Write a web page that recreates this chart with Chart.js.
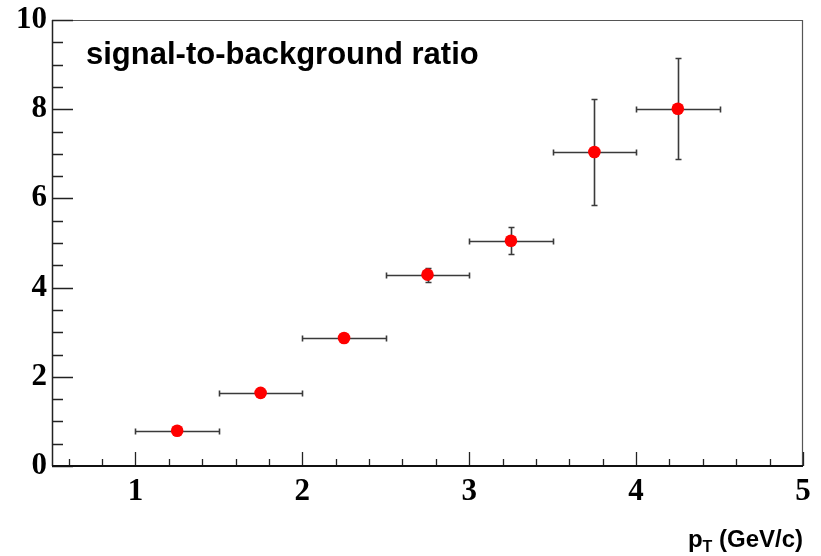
<!DOCTYPE html>
<html>
<head>
<meta charset="utf-8">
<script src="https://cdn.jsdelivr.net/npm/chart.js@4/dist/chart.umd.min.js"></script>
<style>
  html, body { margin: 0; padding: 0; background: #fff; }
  #wrap { width: 821px; height: 556px; }
</style>
</head>
<body>
<div id="wrap"><canvas id="c" width="821" height="556"></canvas></div>
<script>
// pT bin centres (GeV/c) and half-widths
const ptCenters = [1.25, 1.75, 2.25, 2.75, 3.25, 3.75, 4.25];
const ptHalfWidth = [0.25, 0.25, 0.25, 0.25, 0.25, 0.25, 0.25];
// signal-to-background ratio and its uncertainty
const sbRatio = [0.79, 1.64, 2.87, 4.29, 5.05, 7.04, 8.01];
const sbError = [0.04, 0.06, 0.08, 0.16, 0.30, 1.18, 1.13];
// axis tick values
const xTicks = [1, 2, 3, 4, 5];
const yTicks = [0, 2, 4, 6, 8, 10];

const points = ptCenters.map((x, i) => ({ x: x, y: sbRatio[i] }));

const tickFont = { family: '"Liberation Serif", "Times New Roman", serif', weight: 'bold', size: 31 };

// error bars and ROOT-style axis frame/ticks
const frameAndErrors = {
  id: 'frameAndErrors',
  beforeDatasetsDraw(chart) {
    const { ctx, chartArea: a, scales: { x, y } } = chart;
    ctx.save();
    // frame: top & right
    ctx.strokeStyle = '#555';
    ctx.lineWidth = 1.2;
    ctx.beginPath();
    ctx.moveTo(a.left, a.top + 0.5); ctx.lineTo(a.right, a.top + 0.5);
    ctx.moveTo(a.right - 0.5, a.top); ctx.lineTo(a.right - 0.5, a.bottom);
    ctx.stroke();
    // left axis
    ctx.strokeStyle = '#222';
    ctx.lineWidth = 1.5;
    ctx.beginPath();
    ctx.moveTo(a.left + 0.5, a.top); ctx.lineTo(a.left + 0.5, a.bottom);
    ctx.stroke();
    // y ticks
    ctx.lineWidth = 1.3;
    ctx.beginPath();
    for (let v = 0; v <= 10.001; v += 0.5) {
      const py = Math.round(y.getPixelForValue(v)) + 0.5;
      const major = Math.abs(v - Math.round(v / 2) * 2) < 1e-6;
      const len = major ? 21 : 11;
      ctx.moveTo(a.left, py); ctx.lineTo(a.left + len, py);
    }
    ctx.stroke();
    // x ticks
    ctx.beginPath();
    for (let k = 6; k <= 50; k += 2) {
      const v = k / 10;
      const px = Math.round(x.getPixelForValue(v)) + 0.5;
      const major = k % 10 === 0;
      const len = major ? 14 : 7;
      ctx.moveTo(px, a.bottom); ctx.lineTo(px, a.bottom - len);
    }
    ctx.stroke();
    // bottom axis
    ctx.strokeStyle = '#111';
    ctx.lineWidth = 2.2;
    ctx.beginPath();
    ctx.moveTo(a.left, a.bottom); ctx.lineTo(a.right, a.bottom);
    ctx.stroke();

    // error bars
    ctx.strokeStyle = '#3a3a3a';
    ctx.lineWidth = 1.6;
    ctx.beginPath();
    ptCenters.forEach((cx, i) => {
      const px = x.getPixelForValue(cx);
      const py = Math.round(y.getPixelForValue(sbRatio[i])) + 0.5;
      const x0 = Math.round(x.getPixelForValue(cx - ptHalfWidth[i])) + 0.5;
      const x1 = Math.round(x.getPixelForValue(cx + ptHalfWidth[i])) + 0.5;
      ctx.moveTo(x0, py); ctx.lineTo(x1, py);
      ctx.moveTo(x0, py - 3); ctx.lineTo(x0, py + 3);
      ctx.moveTo(x1, py - 3); ctx.lineTo(x1, py + 3);
      const pxr = Math.round(px) + 0.5;
      const y0 = Math.round(y.getPixelForValue(sbRatio[i] + sbError[i])) + 0.5;
      const y1 = Math.round(y.getPixelForValue(sbRatio[i] - sbError[i])) + 0.5;
      ctx.moveTo(pxr, y0); ctx.lineTo(pxr, y1);
      ctx.moveTo(pxr - 3, y0); ctx.lineTo(pxr + 3, y0);
      ctx.moveTo(pxr - 3, y1); ctx.lineTo(pxr + 3, y1);
    });
    ctx.stroke();
    ctx.restore();
  },
  afterDraw(chart) {
    const { ctx, chartArea: a } = chart;
    ctx.save();
    ctx.fillStyle = '#000';
    ctx.textBaseline = 'alphabetic';
    // panel label
    ctx.font = 'bold 31px "Liberation Sans", Arial, sans-serif';
    ctx.textAlign = 'left';
    ctx.fillText('signal-to-background ratio', 86, 64);
    // x axis title with subscript
    const big = 'bold 24px "Liberation Sans", Arial, sans-serif';
    const small = 'bold 16px "Liberation Sans", Arial, sans-serif';
    const rest = ' (GeV/c)';
    ctx.font = big;
    const wRest = ctx.measureText(rest).width;
    const wP = ctx.measureText('p').width;
    ctx.font = small;
    const wT = ctx.measureText('T').width;
    const base = 547;
    let xs = a.right - wRest - wT - wP;
    ctx.font = big;
    ctx.fillText('p', xs, base);
    ctx.font = small;
    ctx.fillText('T', xs + wP, base + 5);
    ctx.font = big;
    ctx.fillText(rest, xs + wP + wT, base);
    ctx.restore();
  }
};

new Chart(document.getElementById('c'), {
  type: 'scatter',
  data: {
    datasets: [{
      data: points,
      backgroundColor: '#ff0000',
      borderColor: '#ff0000',
      borderWidth: 0,
      pointRadius: 6.3,
      pointHoverRadius: 6.3
    }]
  },
  options: {
    responsive: false,
    animation: false,
    events: [],
    layout: { padding: { top: 20, right: 18, left: 0, bottom: 0 } },
    plugins: { legend: { display: false }, tooltip: { enabled: false } },
    scales: {
      x: {
        type: 'linear',
        min: 0.5, max: 5,
        afterBuildTicks: s => { s.ticks = xTicks.map(v => ({ value: v })); },
        afterFit: s => { s.height = 90; s.paddingLeft = 0; s.paddingRight = 0; },
        grid: { display: false, drawTicks: false },
        border: { display: false },
        ticks: { color: '#000', padding: 7, maxRotation: 0, font: tickFont }
      },
      y: {
        type: 'linear',
        min: 0, max: 10,
        afterBuildTicks: s => { s.ticks = yTicks.map(v => ({ value: v })); },
        afterFit: s => { s.width = 52; s.paddingTop = 0; s.paddingBottom = 0; },
        grid: { display: false, drawTicks: false },
        border: { display: false },
        ticks: { color: '#000', padding: 5, font: tickFont }
      }
    }
  },
  plugins: [frameAndErrors]
});
</script>
</body>
</html>
